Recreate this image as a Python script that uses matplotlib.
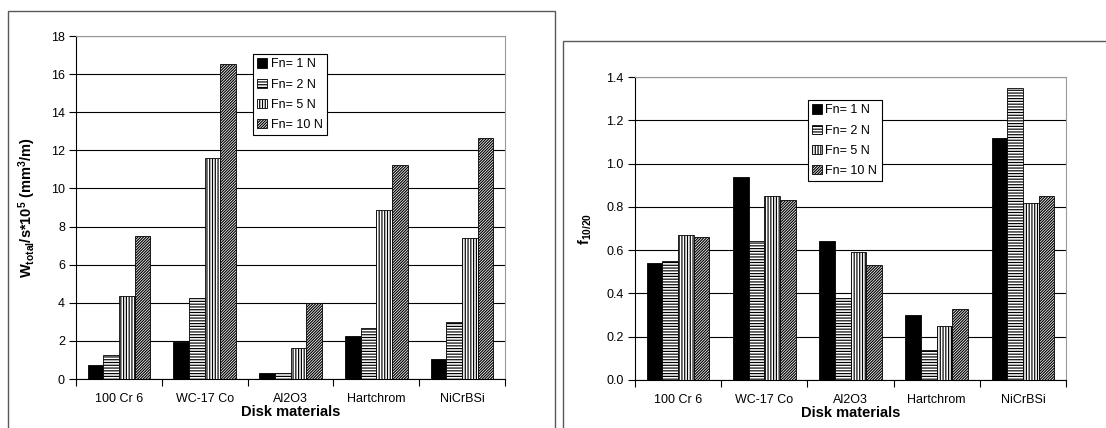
import numpy as np
import matplotlib
matplotlib.use("Agg")
import matplotlib.pyplot as plt
from matplotlib.patches import Rectangle

plt.rcParams["font.family"] = ["Liberation Sans", "DejaVu Sans"]
plt.rcParams["mathtext.fontset"] = "custom"
plt.rcParams["mathtext.rm"] = "Liberation Sans"
plt.rcParams["mathtext.bf"] = "Liberation Sans:bold"
plt.rcParams["mathtext.it"] = "Liberation Sans:italic"
plt.rcParams["hatch.linewidth"] = 0.85

materials = ["100 Cr 6", "WC-17 Co", "Al2O3", "Hartchrom", "NiCrBSi"]
loads = ["Fn= 1 N", "Fn= 2 N", "Fn= 5 N", "Fn= 10 N"]

# wear rate W_total/s * 1e5 (mm^3/m), one list per load
wear_1n = [0.75, 1.95, 0.32, 2.25, 1.07]
wear_2n = [1.26, 4.27, 0.30, 2.68, 2.98]
wear_5n = [4.33, 11.62, 1.64, 8.87, 7.38]
wear_10n = [7.49, 16.52, 3.97, 11.22, 12.67]

# friction coefficient ratio f_10/20
fric_1n = [0.54, 0.94, 0.64, 0.30, 1.12]
fric_2n = [0.55, 0.64, 0.38, 0.14, 1.35]
fric_5n = [0.67, 0.85, 0.59, 0.25, 0.82]
fric_10n = [0.66, 0.83, 0.53, 0.33, 0.85]

hatches = [None, "-" * 6, "|" * 6, "/" * 12]
faces = ["black", "white", "white", "white"]

W, H = 1106, 428
fig = plt.figure(figsize=(W / 100, H / 100), dpi=100)


def px_axes(x0, y0, x1, y1):
    return fig.add_axes([x0 / W, 1 - y1 / H, (x1 - x0) / W, (y1 - y0) / H])


# outer chart frames
fig.patches.append(Rectangle((8 / W, -0.1), (555 - 8) / W, 1.1 - 11 / H,
                             transform=fig.transFigure, fill=False,
                             edgecolor="0.35", lw=1.0))
fig.patches.append(Rectangle((563 / W, -0.1), 1.0, 1.1 - 41 / H,
                             transform=fig.transFigure, fill=False,
                             edgecolor="0.35", lw=1.0))


def draw(ax, series, ymax, ystep, fmt, ylabel, label_x, leg_xy):
    x = np.arange(len(materials))
    bw = 0.182
    for i, vals in enumerate(series):
        ax.bar(x + (i - 1.5) * bw, vals, width=bw, color=faces[i],
               edgecolor="black", linewidth=0.6, hatch=hatches[i],
               label=loads[i], zorder=3)
    ax.set_xlim(-0.5, len(materials) - 0.5)
    ax.set_ylim(0, ymax)
    ax.set_yticks(np.arange(0, ymax + ystep / 2, ystep))
    ax.yaxis.set_major_formatter(plt.FormatStrFormatter(fmt))
    ax.grid(axis="y", color="black", lw=0.8, zorder=0)
    ax.set_axisbelow(True)
    ax.set_xticks(x)
    ax.set_xticklabels(materials)
    ax.set_xticks(np.arange(-0.5, len(materials)), minor=True)
    ax.tick_params(axis="x", which="major", length=0, pad=10, labelsize=9)
    ax.tick_params(axis="x", which="minor", length=5, width=0.8,
                   direction="out")
    ax.tick_params(axis="y", length=5, width=0.8, direction="out",
                   labelsize=9, pad=3)
    for s in ("top", "right"):
        ax.spines[s].set_color("0.6")
    for s in ("left", "bottom"):
        ax.spines[s].set_color("black")
        ax.spines[s].set_linewidth(0.8)
    ax.set_xlabel("Disk materials", fontsize=10.5, fontweight="bold",
                  labelpad=0)
    ax.set_ylabel(ylabel, fontsize=10.5, fontweight="bold")
    ax.yaxis.set_label_coords(label_x, 0.5)
    leg = ax.legend(loc="upper left", bbox_to_anchor=leg_xy, fontsize=9,
                    frameon=True, fancybox=False, edgecolor="black",
                    framealpha=1, handlelength=0.75, handleheight=0.75,
                    handletextpad=0.3, labelspacing=0.65, borderpad=0.35,
                    borderaxespad=0)
    leg.get_frame().set_linewidth(0.8)
    leg.set_zorder(5)


ax1 = px_axes(76, 36, 505, 379)
draw(ax1, [wear_1n, wear_2n, wear_5n, wear_10n], 18, 2, "%d",
     r"$\mathbf{W_{total}/s{*}10^5\ (mm^3/m)}$", -0.088, (0.4126, 0.9475))

ax2 = px_axes(635, 77, 1066, 380)
draw(ax2, [fric_1n, fric_2n, fric_5n, fric_10n], 1.4, 0.2, "%.1f",
     r"$\mathbf{f_{10/20}}$", -0.095, (0.401, 0.924))

fig.savefig("out.png", dpi=100)
